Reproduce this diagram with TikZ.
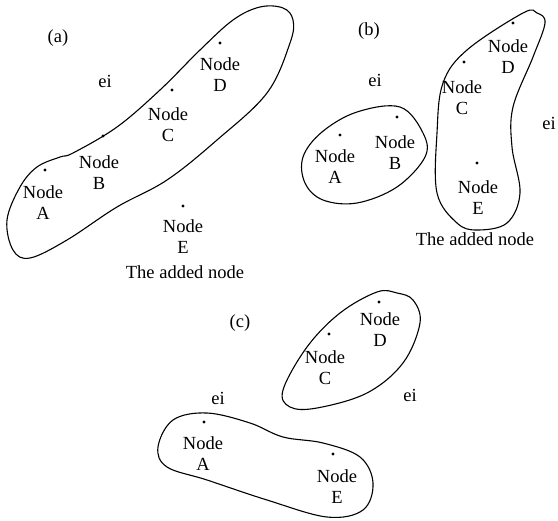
\documentclass[tikz,border=0pt]{standalone}
\usepackage{fontspec}
\setmainfont{Liberation Serif}
\begin{document}
\begin{tikzpicture}[x=1pt,y=-1pt,
  lbl/.style={align=center,inner sep=0pt,font=\fontsize{18.5}{21}\selectfont},
  txt/.style={inner sep=0pt,font=\fontsize{18.5}{21}\selectfont},
  dotm/.style={circle,fill=black,inner sep=0pt,minimum size=3.4pt},
  blob/.style={draw,line width=1.1pt}]
\useasboundingbox (0,0) rectangle (558,521);
% ---------- panel (a)
\node[txt] (ta) at (58,38) {(a)};
\node[txt] (eia) at (105,81) {ei};
\node[dotm] (aDd) at (220,43) {};
\node[lbl] (aD) at (220,75) {Node\\D};
\node[dotm] (aCd) at (172,90) {};
\node[lbl] (aC) at (168,125) {Node\\C};
\node[dotm] (aBd) at (103,136) {};
\node[lbl] (aB) at (99,173) {Node\\B};
\node[dotm] (aAd) at (45,170) {};
\node[lbl] (aA) at (43,203) {Node\\A};
\node[dotm] (aEd) at (183,206) {};
\node[lbl] (aE) at (183,237) {Node\\E};
\node[txt] (aadd) at (185,272) {The added node};
\draw[blob] plot[smooth cycle,tension=0.6] coordinates {
 (7,220) (13,250) (30,258) (67,240) (117,207) (167,180) (217,140) (267,93)
 (290,43) (293,20) (283,8) (260,7) (233,20) (200,50) (160,90) (117,127)
 (73,153) (60,157) (37,167) (20,187)};
% ---------- panel (b)
\node[txt] (tb) at (369,31) {(b)};
\node[txt] (eib1) at (375,80) {ei};
\node[txt] (eib2) at (549,123) {ei};
\node[dotm] (bDd) at (513,23) {};
\node[lbl] (bD) at (508,57) {Node\\D};
\node[dotm] (bCd) at (464,62) {};
\node[lbl] (bC) at (462,98) {Node\\C};
\node[dotm] (bBd) at (397,117) {};
\node[lbl] (bB) at (395,153) {Node\\B};
\node[dotm] (bAd) at (340,135) {};
\node[lbl] (bA) at (335,167) {Node\\A};
\node[dotm] (bEd) at (477,163) {};
\node[lbl] (bE) at (478,198) {Node\\E};
\node[txt] (badd) at (475,239) {The added node};
\draw[blob] plot[smooth cycle,tension=0.6] coordinates {
 (303,157) (322,132) (357,112) (400,107) (423,133) (425,157) (397,187)
 (357,203) (323,200) (305,183)};
\draw[blob] plot[smooth cycle,tension=0.6] coordinates {
 (537,13) (523,13) (467,50) (443,83) (437,133) (437,193) (457,223) (477,230)
 (507,223) (520,193) (512,147) (513,107) (533,57) (545,23)};
% ---------- panel (c)
\node[txt] (tc) at (240,323) {(c)};
\node[txt] (eic1) at (218,398) {ei};
\node[txt] (eic2) at (410,395) {ei};
\node[dotm] (cDd) at (379,302) {};
\node[lbl] (cD) at (380,330) {Node\\D};
\node[dotm] (cCd) at (329,334) {};
\node[lbl] (cC) at (325,368) {Node\\C};
\node[dotm] (cAd) at (204,422) {};
\node[lbl] (cA) at (203,454) {Node\\A};
\node[dotm] (cEd) at (333,454) {};
\node[lbl] (cE) at (337,487) {Node\\E};
\draw[blob] plot[smooth cycle,tension=0.6] coordinates {
 (397,293) (377,292) (340,313) (307,347) (283,390) (290,407) (317,408)
 (367,393) (403,363) (420,323) (413,300)};
\draw[blob] plot[smooth cycle,tension=0.6] coordinates {
 (158,447) (173,420) (207,413) (250,423) (283,437) (323,443) (360,457)
 (373,483) (363,510) (327,517) (267,500) (207,480) (167,467)};
\end{tikzpicture}
\end{document}
